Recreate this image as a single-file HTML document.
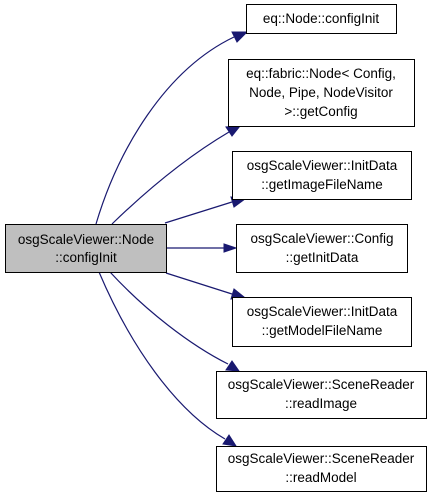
<!DOCTYPE html>
<html><head><style>
body{margin:0;background:#fff;}
svg{display:block;}
text{font-family:"Liberation Sans",Helvetica,Arial,sans-serif;font-size:13.5px;fill:#000;}
</style></head><body>
<svg width="432" height="499" viewBox="0 0 432 499">
<g fill="none" stroke="#191970" stroke-width="1.2">
<path d="M96,224 C118,150 165,70 234,37"/>
<path d="M112,224 C145,192 185,158 229,132"/>
<path d="M165,223 L232,202"/>
<path d="M166,248 L224,248"/>
<path d="M166,273 L232,294"/>
<path d="M110,272 C145,310 190,345 228,364"/>
<path d="M99,272 C130,345 175,410 225,439"/>
</g>
<g fill="#191970" stroke="#191970" stroke-width="1">
<polygon points="247,32 232,32 237,42"/>
<polygon points="240,126 226,127 232,136"/>
<polygon points="245,199 231,197 234,207"/>
<polygon points="236,248 224,244 224,252"/>
<polygon points="244,297 234,289 231,299"/>
<polygon points="239,371 232,361 226,370"/>
<polygon points="236,446 229,435 223,444"/>
</g>
<g stroke="#000" stroke-width="1">
<rect x="5.5" y="224.5" width="161" height="48" fill="#bfbfbf"/>
<rect x="246.5" y="4.5" width="150" height="29" fill="#fff"/>
<rect x="228.5" y="59.5" width="186" height="67" fill="#fff"/>
<rect x="232.5" y="151.5" width="179" height="48" fill="#fff"/>
<rect x="236.5" y="224.5" width="171" height="48" fill="#fff"/>
<rect x="232.5" y="297.5" width="179" height="49" fill="#fff"/>
<rect x="216.5" y="371.5" width="210" height="47" fill="#fff"/>
<rect x="216.5" y="446.5" width="210" height="45" fill="#fff"/>
</g>
<g text-anchor="middle">
<text x="86" y="244">osgScaleViewer::Node</text>
<text x="86" y="262">::configInit</text>
<text x="321" y="23">eq::Node::configInit</text>
<text x="321" y="78">eq::fabric::Node&lt; Config,</text>
<text x="321" y="97">Node, Pipe, NodeVisitor</text>
<text x="321" y="116">&gt;::getConfig</text>
<text x="322" y="170">osgScaleViewer::InitData</text>
<text x="322" y="189">::getImageFileName</text>
<text x="322" y="243">osgScaleViewer::Config</text>
<text x="322" y="262">::getInitData</text>
<text x="322" y="316">osgScaleViewer::InitData</text>
<text x="322" y="335">::getModelFileName</text>
<text x="321" y="389">osgScaleViewer::SceneReader</text>
<text x="321" y="408">::readImage</text>
<text x="321" y="463">osgScaleViewer::SceneReader</text>
<text x="321" y="482">::readModel</text>
</g>
</svg>
</body></html>
